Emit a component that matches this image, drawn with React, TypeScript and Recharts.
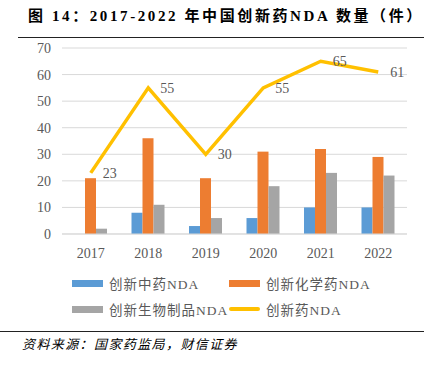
import React from 'react';
import { ComposedChart, Bar, Line, XAxis, YAxis, CartesianGrid, LabelList } from 'recharts';

const years = ['2017', '2018', '2019', '2020', '2021', '2022'];
const tcmNda = [0, 8, 3, 6, 10, 10];
const chemNda = [21, 36, 21, 31, 32, 29];
const bioNda = [2, 11, 6, 18, 23, 22];
const totalNda = [23, 55, 30, 55, 65, 61];
const yTicks = [0, 10, 20, 30, 40, 50, 60, 70];

const data = years.map((year, i) => ({
  year, tcm: tcmNda[i], chem: chemNda[i], bio: bioNda[i], total: totalNda[i],
}));

const serif = '"Liberation Serif", "Noto Sans CJK SC", serif';
const textGrey = '#595959';

const legendItems = [
  { name: '创新中药NDA', color: '#5B9BD5', line: false },
  { name: '创新化学药NDA', color: '#ED7D31', line: false },
  { name: '创新生物制品NDA', color: '#A5A5A5', line: false },
  { name: '创新药NDA', color: '#FFC000', line: true },
];

const Legend2x2 = () => (
  <div style={{ position: 'absolute', left: 72, top: 273, width: 340, display: 'flex', flexWrap: 'wrap', rowGap: 6 }}>
    {legendItems.map((it) => (
      <div key={it.name} style={{ width: 157, display: 'flex', alignItems: 'center', height: 20 }}>
        <span style={{
          display: 'inline-block', width: 31, height: it.line ? 4 : 7,
          background: it.color, borderRadius: it.line ? 2 : 0, marginRight: 6,
        }} />
        <span style={{ fontFamily: serif, fontSize: 13.5, color: textGrey, letterSpacing: 1, whiteSpace: 'nowrap' }}>{it.name}</span>
      </div>
    ))}
  </div>
);

export default function App() {
  return (
    <div style={{ position: 'absolute', left: 0, top: 0, width: 433, height: 365, background: '#fff', overflow: 'hidden' }}>
      <div style={{
        position: 'absolute', left: 28, top: 4, fontFamily: serif, fontWeight: 'bold',
        fontSize: 15, color: '#000', letterSpacing: 2.6, whiteSpace: 'nowrap',
      }}>
        图 14：2017-2022 年中国创新药NDA 数量（件）
      </div>
      <div style={{ position: 'absolute', left: 18, top: 37, width: 406, height: 0, borderTop: '1.5px solid #222' }} />

      <div style={{ position: 'absolute', left: 0, top: 0 }}>
        <ComposedChart
          width={433} height={270} data={data}
          margin={{ top: 48, right: 26, left: 0, bottom: 0 }}
          barGap={0} barCategoryGap="21%"
        >
          <CartesianGrid vertical={false} stroke="#D9D9D9" />
          <XAxis
            dataKey="year" axisLine={{ stroke: '#D9D9D9' }} tickLine={false} height={36} tickMargin={8}
            tick={{ fontFamily: serif, fontSize: 14, fill: textGrey }}
          />
          <YAxis
            domain={[0, 70]} ticks={yTicks} width={62} axisLine={false} tickLine={false} tickMargin={5}
            tick={{ fontFamily: serif, fontSize: 14, fill: textGrey }}
          />
          <Bar dataKey="tcm" fill="#5B9BD5" barSize={11} isAnimationActive={false} />
          <Bar dataKey="chem" fill="#ED7D31" barSize={11} isAnimationActive={false} />
          <Bar dataKey="bio" fill="#A5A5A5" barSize={11} isAnimationActive={false} />
          <Line
            dataKey="total" stroke="#FFC000" strokeWidth={3.5} dot={false}
            type="linear" isAnimationActive={false}
          >
            <LabelList dataKey="total" position="right" offset={12} style={{ fontFamily: serif, fontSize: 14, fill: textGrey }} />
          </Line>
        </ComposedChart>
      </div>

      <Legend2x2 />

      <div style={{ position: 'absolute', left: 0, top: 331, width: 424, height: 0, borderTop: '1.5px solid #222' }} />
      <div style={{
        position: 'absolute', left: 22, top: 334, fontFamily: serif, fontStyle: 'italic',
        fontSize: 13, color: '#000', letterSpacing: 1.4, whiteSpace: 'nowrap',
      }}>
        资料来源：国家药监局，财信证券
      </div>
    </div>
  );
}
